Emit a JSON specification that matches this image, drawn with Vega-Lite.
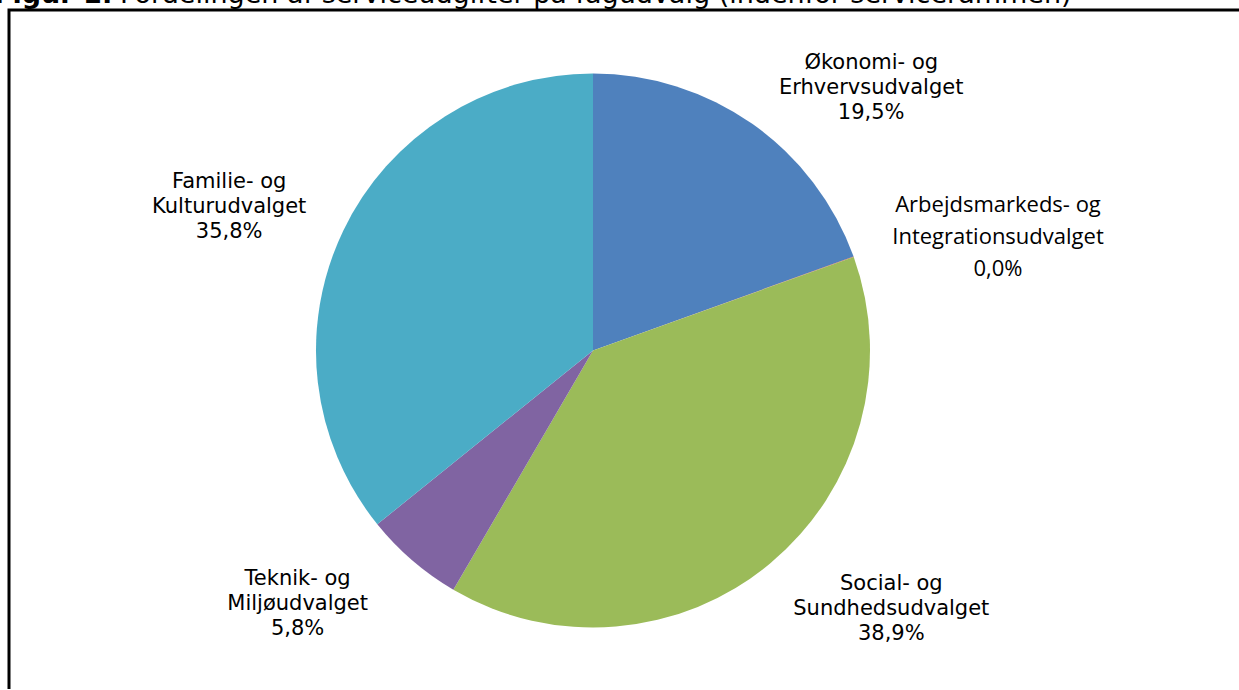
{
  "$schema": "https://vega.github.io/schema/vega-lite/v6.json",
  "autosize": {"type": "pad"},
  "padding": {"left": -8, "top": -21, "right": -1.5, "bottom": -4},
  "background": "white",
  "spacing": 0,
  "bounds": "flush",
  "datasets": {
    "fag": [
      {"i": 1, "l1": "Økonomi- og", "l2": "Erhvervsudvalget", "value": 19.5},
      {"i": 2, "l1": "Arbejdsmarkeds- og", "l2": "Integrationsudvalget", "value": 0.02},
      {"i": 3, "l1": "Social- og", "l2": "Sundhedsudvalget", "value": 38.9},
      {"i": 4, "l1": "Teknik- og", "l2": "Miljøudvalget", "value": 5.8},
      {"i": 5, "l1": "Familie- og", "l2": "Kulturudvalget", "value": 35.8}
    ]
  },
  "hconcat": [
    {
      "width": 1168,
      "height": 681,
      "view": {"stroke": "black", "strokeWidth": 3, "strokeCap": "butt", "strokeDash": [1168, 1849, 681]},
      "title": {"text": "Figur 1:", "anchor": "start", "frame": "group", "font": "DejaVu Sans", "fontSize": 27, "fontWeight": "bold", "color": "black", "baseline": "alphabetic", "offset": -19.5, "dx": -15},
      "data": {"name": "fag"},
      "transform": [
        {"calculate": "datum.l1 + '\\n' + datum.l2 + '\\n' + replace(format(datum.value, '.1f'), '.', ',') + '%'", "as": "label"}
      ],
      "layer": [
        {
          "mark": {"type": "arc", "outerRadius": 277, "stroke": null},
          "encoding": {
            "theta": {"field": "value", "type": "quantitative", "stack": true},
            "order": {"field": "i", "type": "quantitative"},
            "color": {
              "field": "i", "type": "nominal", "legend": null,
              "scale": {"domain": [1, 2, 3, 4, 5], "range": ["#4F81BD", "#C0504D", "#9BBB59", "#8064A2", "#4BACC6"]}
            }
          }
        },
        {
          "mark": {
            "type": "text", "radius": 390, "align": "center", "baseline": "middle", "lineBreak": "\n", "color": "black",
            "font": {"expr": "datum.i == 2 ? 'Open Sans' : 'DejaVu Sans'"},
            "fontSize": {"expr": "datum.i == 2 ? 22 : 21"},
            "lineHeight": {"expr": "datum.i == 2 ? 32 : 25"},
            "dx": {"expr": "datum.i == 1 ? 54 : datum.i == 2 ? 38 : datum.i == 3 ? 49 : datum.i == 4 ? -41 : -12"},
            "dy": {"expr": "datum.i == 1 ? 32 : datum.i == 2 ? -14 : datum.i == 3 ? -66 : datum.i == 4 ? -67 : 0"}
          },
          "encoding": {
            "theta": {"field": "value", "type": "quantitative", "stack": true},
            "order": {"field": "i", "type": "quantitative"},
            "detail": {"field": "i", "type": "nominal"},
            "text": {"field": "label", "type": "nominal"}
          }
        }
      ]
    },
    {
      "width": 62,
      "height": 681,
      "view": {"stroke": "black", "strokeWidth": 3, "strokeCap": "butt", "strokeDash": [62, 5000]},
      "title": {"text": "Fordelingen af serviceudgifter på fagudvalg (indenfor servicerammen)", "anchor": "start", "frame": "group", "font": "DejaVu Sans", "fontSize": 27, "fontWeight": "normal", "color": "black", "baseline": "alphabetic", "offset": -19.5, "dx": -1057},
      "data": {"values": [{"t": ""}]},
      "mark": {"type": "text"},
      "encoding": {"text": {"field": "t", "type": "nominal"}}
    }
  ]
}
